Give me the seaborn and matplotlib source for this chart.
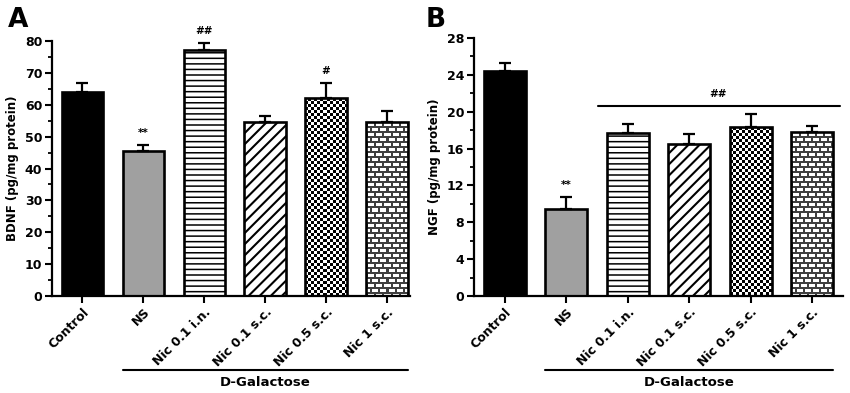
import numpy as np
import pandas as pd
import matplotlib
matplotlib.use("Agg")
import matplotlib.pyplot as plt
import seaborn as sns
from matplotlib.ticker import AutoMinorLocator
from matplotlib.transforms import blended_transform_factory

# ---------------- data ----------------
groups = ["Control", "NS", "Nic 0.1 i.n.", "Nic 0.1 s.c.", "Nic 0.5 s.c.", "Nic 1 s.c."]
bdnf_mean = [64.0, 45.6, 77.3, 54.6, 62.0, 54.6]
bdnf_sem = [2.7, 1.7, 2.1, 2.0, 4.7, 3.4]
ngf_mean = [24.4, 9.4, 17.7, 16.5, 18.3, 17.8]
ngf_sem = [0.9, 1.3, 1.0, 1.1, 1.5, 0.7]
bdnf_marks = ["", "**", "##", "", "#", ""]
ngf_marks = ["", "**", "", "", "", ""]
ngf_group_mark = "##"
bdnf_ticks = [0, 10, 20, 30, 40, 50, 60, 70, 80]
ngf_ticks = [0, 4, 8, 12, 16, 20, 24, 28]
group_label = "D-Galactose"

fills = ["#000000", "#a0a0a0", "#ffffff", "#ffffff", "#ffffff", "#ffffff"]
patterns = [None, None, "hlines", "diag", "checker", "brick"]

sns.set_style("ticks")
plt.rcParams["font.family"] = ["DejaVu Sans"]
plt.rcParams["font.weight"] = "bold"
plt.rcParams["axes.labelweight"] = "bold"
plt.rcParams["hatch.linewidth"] = 1.1
for k in ("text.color", "axes.labelcolor", "xtick.color", "ytick.color",
          "axes.edgecolor"):
    plt.rcParams[k] = "black"

fig = plt.figure(figsize=(8.5, 3.93), dpi=100)
W, H = 850, 393


def pattern_image(kind, h, w):
    ii, jj = np.mgrid[0:h, 0:w]
    if kind == "checker":
        dark = ((ii // 3 + jj // 3) % 2) > 0
        col = np.where(dark, 0.0, 1.0)
    else:  # brick
        row = ii // 5
        dark = (ii % 5 < 2) | (((jj + (row % 2) * 4) % 8) < 2)
        col = np.where(dark, 0.25, 1.0)
    return col[..., None] * np.ones(3)


def draw_panel(ax, means, sems, marks, ticks, ylabel, xmax):
    df = pd.DataFrame({"group": groups, "value": means})
    sns.barplot(data=df, x="group", y="value", hue="group", palette=fills,
                width=0.68, ax=ax, edgecolor="black", linewidth=1.9,
                errorbar=None, legend=False, saturation=1, zorder=2)
    ax.set_xlim(-0.5, xmax)
    ax.set_ylim(ticks[0], ticks[-1])
    fig.canvas.draw()
    bars = [p for c in ax.containers for p in c]
    for p, pat in zip(bars, patterns):
        if pat == "hlines":
            p.set_hatch("---")
        elif pat == "diag":
            p.set_hatch("///")
            try:
                p.set_hatch_linewidth(1.5)
            except Exception:
                pass
        elif pat in ("checker", "brick"):
            x0, y0 = p.get_x(), p.get_y()
            x1, y1 = x0 + p.get_width(), y0 + p.get_height()
            (px0, py0), (px1, py1) = ax.transData.transform([(x0, y0), (x1, y1)])
            pw, ph = int(round(px1 - px0)), int(round(py1 - py0))
            img = pattern_image(pat, ph, pw)
            im = ax.imshow(img, extent=(x0, x1, y0, y1), origin="upper",
                           interpolation="nearest", aspect="auto", zorder=1.9)
            im.set_clip_path(p)
            p.set_facecolor("none")
    ax.set_xlim(-0.5, xmax)
    ax.set_ylim(ticks[0], ticks[-1])
    x = np.arange(len(groups))
    ax.errorbar(x, means, yerr=[np.zeros(len(means)), sems], fmt="none",
                ecolor="black", elinewidth=1.6, capsize=4, capthick=1.6, zorder=3)
    for xi, m, s, t in zip(x, means, sems, marks):
        if t:
            ax.annotate(t, (xi, m + s), xytext=(0, 5), textcoords="offset points",
                        ha="center", va="bottom", fontsize=7.5)
    ax.set_yticks(ticks)
    ax.yaxis.set_minor_locator(AutoMinorLocator(2))
    ax.set_xticks(x)
    ax.set_xticklabels(groups, rotation=45, ha="right", rotation_mode="anchor")
    ax.tick_params(axis="both", which="major", direction="out", length=5,
                   width=1.5, labelsize=9, pad=2, color="black")
    ax.tick_params(axis="y", which="minor", direction="out", length=3, width=1.3)
    ax.set_xlabel("")
    ax.set_ylabel(ylabel, fontsize=8.5, labelpad=4)
    sns.despine(ax=ax)
    for s in ("left", "bottom"):
        ax.spines[s].set_linewidth(1.6)
        ax.spines[s].set_color("black")
    # D-Galactose bracket
    tr = blended_transform_factory(ax.transData, fig.transFigure)
    ax.plot([0.66, 5.34], [(H - 370) / H] * 2, transform=tr, color="black",
            lw=1.5, clip_on=False)
    ax.text(3.0, (H - 382) / H, group_label, transform=tr, ha="center",
            va="center", fontsize=9.5)


axA = fig.add_axes([52 / W, (H - 296) / H, (410 - 52) / W, 255 / H])
axB = fig.add_axes([474 / W, (H - 296) / H, (843 - 474) / W, 258 / H])

draw_panel(axA, bdnf_mean, bdnf_sem, bdnf_marks, bdnf_ticks,
           "BDNF (pg/mg protein)", 5.38)
draw_panel(axB, ngf_mean, ngf_sem, ngf_marks, ngf_ticks,
           "NGF (pg/mg protein)", 5.5)

# NGF group significance line
axB.plot([1.52, 5.45], [20.6, 20.6], color="black", lw=1.5, clip_on=False)
axB.text(3.47, 21.4, ngf_group_mark, ha="center", va="bottom", fontsize=7.5)

fig.text(8 / W, (H - 27) / H, "A", fontsize=19, fontweight="bold", va="baseline")
fig.text(426 / W, (H - 27) / H, "B", fontsize=19, fontweight="bold", va="baseline")

fig.savefig("out.png", dpi=100)
